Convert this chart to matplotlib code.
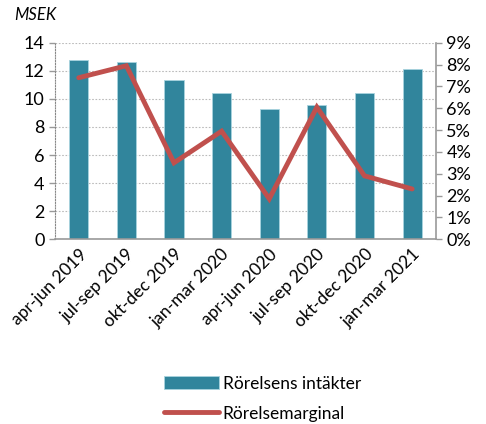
import matplotlib.pyplot as plt
import numpy as np
from matplotlib.ticker import FuncFormatter

plt.rcParams['font.family'] = ['Lato', 'DejaVu Sans']

kvartal = ['apr-jun 2019', 'jul-sep 2019', 'okt-dec 2019', 'jan-mar 2020',
           'apr-jun 2020', 'jul-sep 2020', 'okt-dec 2020', 'jan-mar 2021']
intakter = [12.8, 12.6, 11.35, 10.45, 9.3, 9.55, 10.45, 12.1]
marginal = [7.4, 7.95, 3.5, 4.95, 1.85, 6.05, 2.9, 2.3]

fig = plt.figure(figsize=(4.86, 4.24), dpi=100)
ax = fig.add_axes([0.113, 0.436, 0.784, 0.463])
x = np.arange(len(kvartal))

staplar = ax.bar(x, intakter, width=0.4, color='#31859C', edgecolor='#a8d3de',
                 linewidth=0.6, label='Rörelsens intäkter', zorder=2)
ax.set_ylim(0, 14)
ax.set_yticks(range(0, 15, 2))
ax.set_xlim(-0.5, len(kvartal) - 0.5)
ax.set_xticks(x)
ax.set_xticklabels(kvartal, rotation=45, ha='right', rotation_mode='anchor', fontsize=12.5)
ax.tick_params(axis='x', length=0, pad=5)
ax.tick_params(axis='y', labelsize=13, length=4, color='#999999', direction='out', width=1)
ax.yaxis.grid(True, linestyle=(0, (1.5, 1.5)), color='#bbbbbb', linewidth=0.8, zorder=0)
ax.set_axisbelow(True)
for s in ['top', 'right']:
    ax.spines[s].set_visible(False)
ax.spines['left'].set_linestyle((0, (1, 1.5)))
ax.spines['left'].set_color('#888888')
ax.spines['bottom'].set_color('#999999')
ax.spines['bottom'].set_linewidth(1.2)

ax2 = ax.twinx()
linje, = ax2.plot(x, marginal, color='#C0504D', linewidth=3.5, label='Rörelsemarginal',
                  solid_capstyle='round', solid_joinstyle='miter', zorder=3)
ax2.set_ylim(0, 9)
ax2.set_yticks(range(0, 10))
ax2.yaxis.set_major_formatter(FuncFormatter(lambda v, p: f'{int(v)}%'))
ax2.tick_params(axis='y', labelsize=13, length=4, color='#999999', width=1)
for s in ['top', 'left', 'bottom']:
    ax2.spines[s].set_visible(False)
ax2.spines['right'].set_color('#999999')
ax2.spines['right'].set_linewidth(1.2)

fig.text(0.03, 0.965, 'MSEK', fontsize=12, style='italic', va='center')

fig.legend([staplar, linje], ['Rörelsens intäkter', 'Rörelsemarginal'],
           loc='center', bbox_to_anchor=(0.54, 0.06), ncol=1, frameon=False,
           fontsize=12.5, handlelength=3.2, handleheight=0.8, labelspacing=0.8,
           handletextpad=0.2)

fig.savefig('out.png', dpi=100)
